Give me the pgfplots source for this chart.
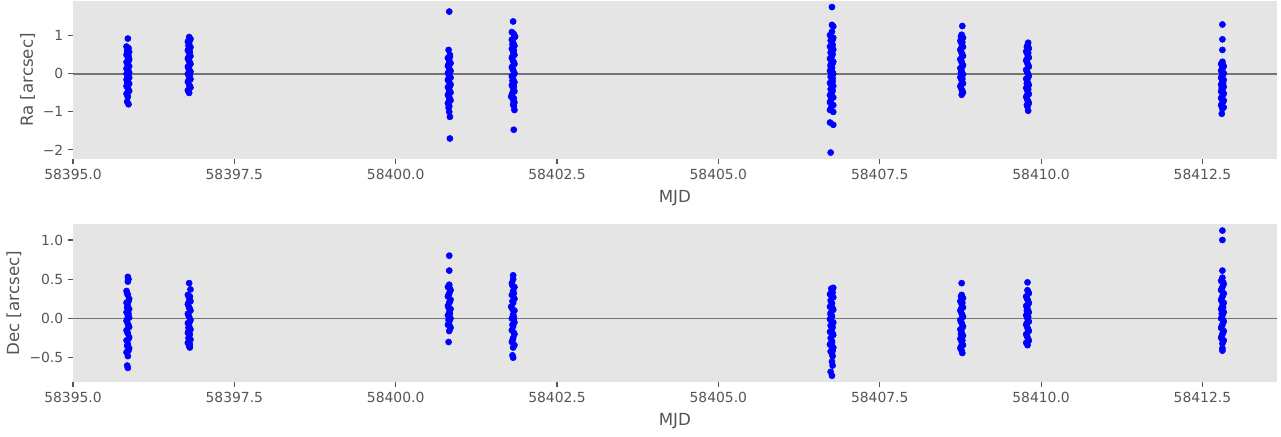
\documentclass[border=0pt]{standalone}
\usepackage{fontspec}
\setmainfont{DejaVu Sans}
\usepackage{pgfplots}
\pgfplotsset{compat=1.18}
\definecolor{bg}{HTML}{E5E5E5}
\definecolor{tk}{HTML}{555555}
\definecolor{zl}{HTML}{737373}
\pgfplotsset{
 myax/.style={
  scale only axis, width=866.6pt, height=113.8pt,
  xmin=0, xmax=18.65,
  axis background/.style={fill=bg},
  axis line style={draw=none},
  tick align=outside, xtick pos=bottom, ytick pos=left,
  major tick length=3.5pt,
  tick style={tk, line width=0.8pt},
  tick label style={font=\fontsize{10}{12}\selectfont, text=tk},
  label style={font=\fontsize{12}{14}\selectfont, text=tk},
  xtick={0,2.5,5,7.5,10,12.5,15,17.5},
  xticklabels={58395.0,58397.5,58400.0,58402.5,58405.0,58407.5,58410.0,58412.5},
  xlabel={MJD},
  xlabel style={at={([yshift=-28pt]axis description cs:0.5,0)}, anchor=center},
  clip=false,
 },
 dots/.style={only marks, mark=*, mark size=2.2pt, blue, mark options={draw=blue, fill=blue}},
}
\begin{document}
\begin{tikzpicture}
\begin{axis}[myax, at={(0,0)}, anchor=south west,
  ymin=-2.24, ymax=1.92,
  ytick={-2,-1,0,1}, yticklabels={−2,−1,0,1},
  ylabel={Ra [arcsec]},
  ylabel style={at={([xshift=-32.7pt]axis description cs:0,0.5)}, anchor=center},
]
\addplot[zl, line width=1.1pt, forget plot] coordinates {(0,0) (18.65,0)};
\addplot[dots] coordinates {
(0.85,0.93)(0.83,0.72)(0.85,0.65)(0.87,0.58)(0.83,0.50)(0.85,0.44)(0.87,0.38)(0.83,0.31)(0.85,0.25)(0.87,0.20)(0.83,0.14)(0.85,0.09)(0.87,0.04)(0.83,0.00)(0.85,-0.05)(0.87,-0.10)(0.83,-0.15)(0.85,-0.20)(0.87,-0.26)(0.83,-0.32)(0.85,-0.38)(0.87,-0.45)(0.83,-0.52)(0.85,-0.60)(0.84,-0.73)(0.86,-0.80)
(0.86,0.68)(0.84,0.55)(0.86,0.34)(0.84,0.17)(0.86,-0.02)(0.84,-0.23)(0.86,-0.42)(0.84,-0.56)(0.86,0.47)(0.84,0.62)
(1.80,0.97)(1.82,0.92)(1.78,0.85)(1.80,0.78)(1.82,0.70)(1.78,0.62)(1.80,0.55)(1.82,0.47)(1.78,0.40)(1.80,0.33)(1.82,0.26)(1.78,0.19)(1.80,0.12)(1.82,0.06)(1.78,0.00)(1.80,-0.07)(1.82,-0.14)(1.78,-0.21)(1.80,-0.29)(1.82,-0.36)(1.78,-0.43)(1.80,-0.50)
(1.81,0.88)(1.79,0.74)(1.81,0.58)(1.79,0.44)(1.81,0.30)(1.79,0.15)(1.81,-0.03)(1.79,-0.18)(1.81,-0.32)(1.79,-0.46)
(5.83,1.64)(5.82,0.63)(5.84,0.50)(5.81,0.42)(5.83,0.35)(5.85,0.28)(5.81,0.21)(5.83,0.14)(5.85,0.08)(5.81,0.02)(5.83,-0.04)(5.85,-0.10)(5.81,-0.16)(5.83,-0.22)(5.85,-0.28)(5.81,-0.35)(5.83,-0.42)(5.85,-0.49)(5.81,-0.56)(5.83,-0.63)(5.85,-0.70)(5.81,-0.78)(5.83,-0.85)(5.82,-0.89)(5.83,-1.00)(5.84,-1.13)(5.84,-1.70)
(5.84,0.45)(5.82,0.25)(5.84,0.05)(5.82,-0.13)(5.84,-0.32)(5.82,-0.52)(5.84,-0.66)(5.82,-0.74)
(6.82,1.38)(6.80,1.10)(6.83,1.05)(6.85,0.98)(6.80,0.90)(6.82,0.82)(6.84,0.74)(6.80,0.66)(6.82,0.58)(6.84,0.50)(6.80,0.42)(6.82,0.34)(6.84,0.26)(6.80,0.18)(6.82,0.10)(6.84,0.02)(6.80,-0.06)(6.82,-0.14)(6.84,-0.22)(6.80,-0.30)(6.82,-0.38)(6.84,-0.46)(6.80,-0.55)(6.79,-0.60)(6.82,-0.68)(6.84,-0.75)(6.83,-0.85)(6.84,-0.95)(6.83,-1.47)
(6.83,0.95)(6.81,0.78)(6.83,0.62)(6.81,0.46)(6.83,0.30)(6.81,0.14)(6.83,-0.02)(6.81,-0.18)(6.83,-0.34)(6.81,-0.50)(6.83,-0.64)(6.82,-0.80)
(11.76,1.76)(11.76,1.29)(11.78,1.25)(11.76,1.11)(11.73,1.02)(11.78,0.95)(11.74,0.88)(11.76,0.80)(11.73,0.72)(11.78,0.64)(11.74,0.56)(11.76,0.48)(11.73,0.40)(11.78,0.32)(11.74,0.24)(11.76,0.16)(11.73,0.08)(11.78,0.00)(11.74,-0.08)(11.76,-0.16)(11.73,-0.24)(11.78,-0.32)(11.74,-0.40)(11.76,-0.48)(11.73,-0.56)(11.78,-0.62)(11.74,-0.70)(11.73,-0.75)(11.78,-0.82)(11.75,-0.88)(11.73,-0.95)(11.78,-1.00)(11.73,-1.28)(11.78,-1.34)(11.74,-2.07)
(11.75,0.60)(11.74,0.20)(11.77,-0.20)(11.75,0.36)(11.77,0.76)(11.77,0.90)(11.75,0.68)(11.77,0.52)(11.75,0.44)(11.77,0.28)(11.75,0.12)(11.77,0.04)(11.75,-0.04)(11.77,-0.12)(11.75,-0.28)(11.77,-0.44)(11.75,-0.52)(11.76,-0.60)
(13.78,1.26)(13.77,1.03)(13.79,0.95)(13.75,0.87)(13.77,0.79)(13.79,0.71)(13.75,0.63)(13.77,0.55)(13.79,0.47)(13.75,0.39)(13.77,0.31)(13.79,0.23)(13.75,0.15)(13.77,0.07)(13.79,-0.01)(13.75,-0.09)(13.77,-0.17)(13.79,-0.25)(13.75,-0.33)(13.77,-0.41)(13.79,-0.49)(13.77,-0.55)
(13.76,0.98)(13.78,0.83)(13.76,0.67)(13.78,0.51)(13.76,0.35)(13.78,0.19)(13.76,0.03)(13.78,-0.13)(13.76,-0.29)(13.78,-0.45)
(14.80,0.82)(14.79,0.75)(14.81,0.67)(14.77,0.59)(14.79,0.51)(14.81,0.43)(14.77,0.35)(14.79,0.27)(14.81,0.19)(14.77,0.11)(14.79,0.03)(14.81,-0.05)(14.77,-0.13)(14.79,-0.21)(14.81,-0.29)(14.77,-0.37)(14.79,-0.45)(14.81,-0.53)(14.77,-0.61)(14.79,-0.69)(14.81,-0.77)(14.79,-0.86)(14.80,-0.97)
(14.78,0.71)(14.80,0.55)(14.78,0.39)(14.80,0.23)(14.78,0.07)(14.80,-0.09)(14.78,-0.25)(14.80,-0.41)(14.78,-0.57)(14.80,-0.73)(14.78,-0.82)
(17.81,1.30)(17.81,0.91)(17.81,0.63)(17.81,0.32)(17.79,0.26)(17.83,0.20)(17.81,0.14)(17.79,0.08)(17.83,0.02)(17.81,-0.04)(17.79,-0.10)(17.83,-0.16)(17.81,-0.22)(17.79,-0.28)(17.83,-0.34)(17.81,-0.40)(17.79,-0.46)(17.83,-0.52)(17.81,-0.58)(17.79,-0.64)(17.83,-0.70)(17.81,-0.76)(17.79,-0.82)(17.83,-0.88)(17.81,-0.92)(17.80,-1.05)
(17.82,0.23)(17.80,0.11)(17.82,-0.01)(17.80,-0.13)(17.82,-0.25)(17.80,-0.37)(17.82,-0.49)(17.80,-0.61)(17.82,-0.73)(17.80,-0.85)
};
\end{axis}
\begin{axis}[myax, at={(0,-160.8pt)}, anchor=south west,
  ymin=-0.814, ymax=1.20,
  ytick={-0.5,0,0.5,1}, yticklabels={−0.5,0.0,0.5,1.0},
  ylabel={Dec [arcsec]},
  ylabel style={at={([xshift=-42.5pt]axis description cs:0,0.5)}, anchor=center},
]
\addplot[zl, line width=1.1pt, forget plot] coordinates {(0,0) (18.65,0)};
\addplot[dots] coordinates {
(0.85,0.53)(0.86,0.50)(0.85,0.47)(0.83,0.35)(0.85,0.30)(0.87,0.25)(0.83,0.20)(0.85,0.16)(0.87,0.12)(0.83,0.08)(0.85,0.04)(0.87,0.01)(0.83,-0.03)(0.85,-0.07)(0.87,-0.11)(0.83,-0.15)(0.85,-0.19)(0.87,-0.24)(0.83,-0.28)(0.85,-0.33)(0.87,-0.38)(0.83,-0.43)(0.85,-0.48)(0.84,-0.60)(0.85,-0.63)
(0.84,0.32)(0.86,0.22)(0.84,0.14)(0.86,0.06)(0.84,-0.01)(0.86,-0.09)(0.84,-0.17)(0.86,-0.26)(0.84,-0.35)(0.86,-0.41)
(1.80,0.45)(1.82,0.37)(1.78,0.30)(1.80,0.26)(1.82,0.22)(1.78,0.18)(1.80,0.14)(1.82,0.10)(1.78,0.06)(1.80,0.02)(1.82,-0.02)(1.78,-0.06)(1.80,-0.10)(1.82,-0.14)(1.78,-0.18)(1.80,-0.22)(1.82,-0.27)(1.78,-0.31)(1.80,-0.35)(1.81,-0.37)
(1.81,0.28)(1.79,0.20)(1.81,0.12)(1.79,0.04)(1.81,-0.04)(1.79,-0.12)(1.81,-0.20)(1.79,-0.25)(1.81,-0.33)
(5.83,0.80)(5.83,0.61)(5.83,0.43)(5.81,0.40)(5.85,0.36)(5.83,0.32)(5.81,0.28)(5.85,0.24)(5.83,0.20)(5.81,0.16)(5.85,0.12)(5.83,0.08)(5.81,0.04)(5.85,0.00)(5.83,-0.04)(5.81,-0.08)(5.85,-0.12)(5.83,-0.16)(5.82,-0.30)
(5.84,0.38)(5.82,0.30)(5.84,0.22)(5.82,0.14)(5.84,0.06)(5.82,-0.02)(5.84,-0.10)
(6.82,0.55)(6.82,0.50)(6.80,0.45)(6.84,0.40)(6.82,0.35)(6.80,0.30)(6.84,0.25)(6.82,0.20)(6.79,0.15)(6.84,0.10)(6.82,0.05)(6.80,0.00)(6.84,-0.05)(6.82,-0.10)(6.80,-0.15)(6.84,-0.20)(6.82,-0.25)(6.80,-0.30)(6.84,-0.34)(6.82,-0.37)(6.81,-0.47)(6.82,-0.50)(6.81,0.22)(6.83,-0.02)
(6.81,0.42)(6.83,0.32)(6.81,0.12)(6.83,0.02)(6.81,-0.08)(6.83,-0.18)(6.81,-0.28)
(11.75,0.38)(11.78,0.39)(11.76,0.35)(11.73,0.31)(11.78,0.27)(11.74,0.23)(11.76,0.19)(11.73,0.15)(11.78,0.11)(11.74,0.07)(11.76,0.03)(11.73,-0.01)(11.78,-0.05)(11.74,-0.09)(11.76,-0.13)(11.73,-0.17)(11.78,-0.21)(11.74,-0.25)(11.76,-0.29)(11.73,-0.33)(11.78,-0.37)(11.74,-0.42)(11.77,-0.48)(11.76,-0.55)(11.77,-0.60)(11.74,-0.68)(11.76,-0.73)
(11.75,0.21)(11.77,-0.11)(11.74,0.05)(11.76,-0.31)(11.77,0.33)(11.75,0.29)(11.77,0.13)(11.75,-0.03)(11.77,-0.19)(11.75,-0.35)(11.77,-0.41)(11.76,-0.45)
(13.77,0.45)(13.77,0.30)(13.79,0.26)(13.75,0.22)(13.77,0.18)(13.79,0.14)(13.75,0.10)(13.77,0.06)(13.79,0.02)(13.75,-0.02)(13.77,-0.06)(13.79,-0.10)(13.75,-0.14)(13.77,-0.18)(13.79,-0.22)(13.75,-0.26)(13.77,-0.30)(13.79,-0.34)(13.75,-0.38)(13.77,-0.41)(13.78,-0.44)
(13.76,0.28)(13.78,0.20)(13.76,0.12)(13.78,0.04)(13.76,-0.04)(13.78,-0.12)(13.76,-0.20)(13.78,-0.28)(13.76,-0.36)
(14.79,0.46)(14.79,0.36)(14.81,0.32)(14.77,0.28)(14.79,0.24)(14.81,0.20)(14.77,0.16)(14.79,0.12)(14.81,0.08)(14.77,0.04)(14.79,0.00)(14.81,-0.04)(14.77,-0.08)(14.79,-0.12)(14.81,-0.16)(14.77,-0.20)(14.79,-0.24)(14.81,-0.28)(14.77,-0.31)(14.79,-0.34)
(14.80,0.34)(14.78,0.26)(14.80,0.18)(14.78,0.10)(14.80,0.02)(14.78,-0.06)(14.80,-0.14)(14.78,-0.22)(14.80,-0.29)
(17.81,1.12)(17.81,1.00)(17.81,0.61)(17.81,0.52)(17.79,0.48)(17.83,0.44)(17.81,0.40)(17.79,0.36)(17.83,0.32)(17.81,0.28)(17.79,0.24)(17.83,0.20)(17.81,0.16)(17.79,0.12)(17.83,0.08)(17.81,0.04)(17.79,0.00)(17.83,-0.04)(17.81,-0.08)(17.79,-0.12)(17.83,-0.16)(17.81,-0.20)(17.79,-0.24)(17.83,-0.28)(17.81,-0.32)(17.81,-0.38)(17.81,-0.41)
(17.82,0.46)(17.80,0.38)(17.82,0.30)(17.80,0.22)(17.82,0.14)(17.80,0.06)(17.82,-0.02)(17.80,-0.10)(17.82,-0.18)(17.80,-0.26)
};
\end{axis}
\pgfresetboundingbox
\path[use as bounding box] (-52.56pt,-199.44pt) rectangle (869.76pt,114.48pt);
\end{tikzpicture}
\end{document}
